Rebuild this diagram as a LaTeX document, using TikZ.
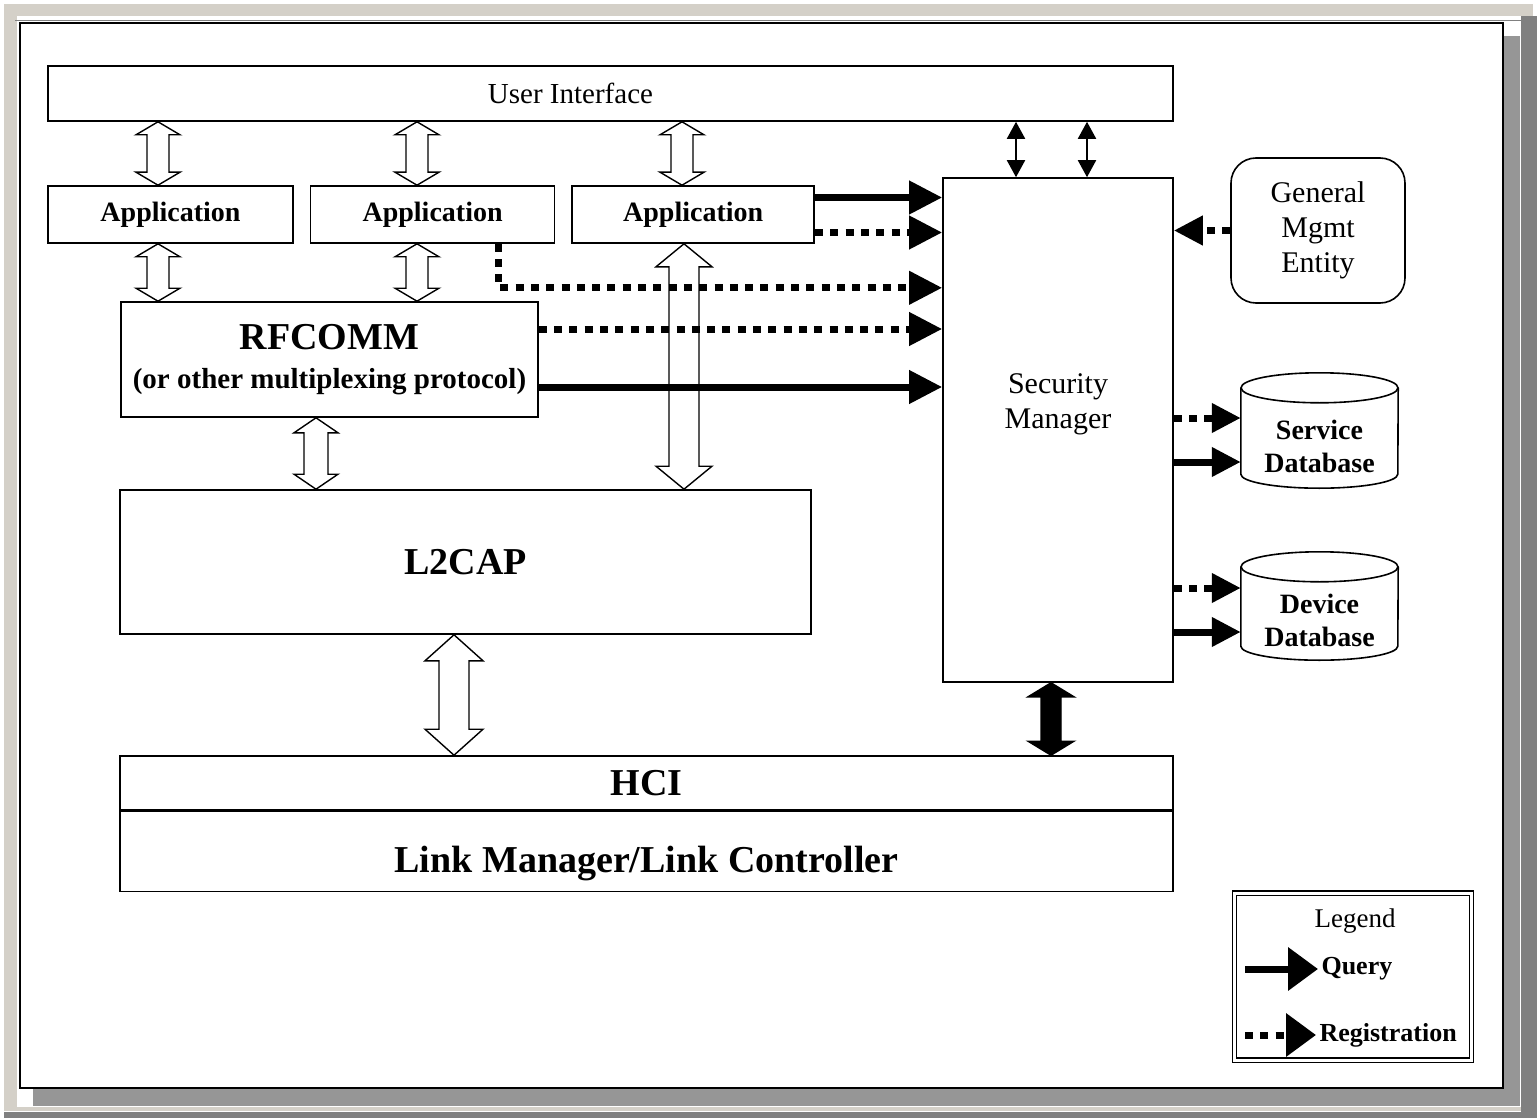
\documentclass[tikz,border=0pt]{standalone}
\usepackage{fontspec}
\setmainfont{Liberation Serif}
\usetikzlibrary{arrows.meta,positioning,calc}

\definecolor{winface}{RGB}{212,208,200}
\definecolor{winshadow}{RGB}{128,128,128}
\definecolor{dither}{RGB}{150,150,150}

\begin{document}
\begin{tikzpicture}[x=1pt,y=-1pt,
            box/.style={draw,rectangle,line width=1.6pt,inner sep=0pt},
            app/.style={box,minimum width=244pt,minimum height=57pt,font=\fontsize{28pt}{34pt}\selectfont\bfseries},
            layer/.style={box,font=\fontsize{38pt}{44pt}\selectfont\bfseries},
            bigtext/.style={font=\fontsize{38pt}{44pt}\selectfont\bfseries},
            uitext/.style={font=\fontsize{29pt}{35pt}\selectfont},
            smtext/.style={align=center,font=\fontsize{30pt}{35pt}\selectfont},
            dbtext/.style={align=center,font=\fontsize{28pt}{33pt}\selectfont\bfseries},
            legtext/.style={font=\fontsize{27pt}{32pt}\selectfont},
            db/.style={rectangle,minimum width=157pt,inner sep=0pt},
            dbline/.style={line width=1.6pt},
            hollow/.style args={#1/#2/#3}{draw,fill=white,line width=1.4pt,
              to path={let \p1=(\tikztostart), \p2=(\tikztotarget) in
                (\x1,\y1) -- (\x1+#2pt,\y1-#3pt) -- (\x1+#1pt,\y1-#3pt) -- (\x2+#1pt,\y2+#3pt)
                -- (\x2+#2pt,\y2+#3pt) -- (\x2,\y2) -- (\x2-#2pt,\y2+#3pt) -- (\x2-#1pt,\y2+#3pt)
                -- (\x1-#1pt,\y1-#3pt) -- (\x1-#2pt,\y1-#3pt) -- cycle}},
            bus/.style={hollow=#1,fill=black},
            ctl/.style={draw,line width=2pt,{Triangle[length=17pt,width=18pt]}-{Triangle[length=17pt,width=18pt]}},
            query/.style={draw,line width=7pt,-{Triangle[length=33pt,width=32pt]}},
            reg/.style={query,dash pattern=on 8pt off 7.3pt},
            small tip/.style={-{Triangle[length=29pt,width=28pt]}},
            legend tip/.style={-{Triangle[length=30pt,width=42pt]}}
          ]
          % window frame
          \useasboundingbox (0,0) rectangle (1537,1118);
          \fill[white] (0,0) rectangle (1537,1118);
          \fill[winface] (4,4) rectangle (1533,16);
          \fill[winface] (4,4) rectangle (17,1111);
          \fill[winface] (17,1107) rectangle (1521,1111);
          \fill[winshadow] (1521,16) rectangle (1537,1118);
          \fill[winshadow] (4,1112) rectangle (1537,1118);
          \fill[dither] (1504,36) rectangle (1520,1106);
          \fill[dither] (33,1089) rectangle (1520,1106);
          \draw[winshadow,line width=1.5pt] (15,20.5) -- (1523,20.5);
          \draw[line width=2pt] (20,23) rectangle (1503,1088);

          %stack
          \node[box,minimum width=1125pt,minimum height=55pt,
                label={[uitext,xshift=-40pt]center:User Interface}] (ui) at (610.5,93.5) {};
          \node[app,minimum width=245pt] (app1) at (170.5,214.5) {Application};
          \node[app,right=16pt of app1] (app2) {Application};
          \node[app,minimum width=242pt,right=16pt of app2] (app3) {Application};
          \node[box,minimum width=417pt,minimum height=115pt,align=center,
                font=\fontsize{29pt}{39pt}\selectfont\bfseries] (rfcomm) at (329.5,359.5)
                {{\fontsize{38pt}{39pt}\selectfont RFCOMM}\\(or other multiplexing protocol)};
          \node[layer,minimum width=691pt,minimum height=144pt] (l2cap) at (465.5,562) {L2CAP};
          \node[layer,minimum width=1053pt,minimum height=54pt] (hci) at (646.5,783) {HCI};
          \node[layer,minimum width=1053pt,minimum height=80pt,below=0pt of hci,
                label={[bigtext,yshift=-12pt]center:Link Manager/Link Controller}] (lm) {};

          %security side
          \node[box,minimum width=230pt,minimum height=504pt,
                label={[smtext,yshift=26pt]center:Security\\Manager}] (sm) at (1058,430) {};
          \node[draw,line width=1.6pt,rounded corners=25pt,minimum width=174pt,minimum height=145pt,
                smtext] (gme) at (1318,230.5) {General\\Mgmt\\Entity};
          \node[db,minimum height=115pt,label={[dbtext,yshift=-16pt]center:Service\\Database}] (sdb) at (1319.5,430.5) {};
          \node[db,minimum height=108pt,label={[dbtext,yshift=-14pt]center:Device\\Database}] (ddb) at (1319.5,606) {};

          %database outlines
          \foreach \d in {sdb,ddb}{
            \draw[dbline] ([yshift=-15pt]\d.north) ellipse [x radius=78.5pt,y radius=15pt];
            \draw[dbline] ([yshift=-15pt]\d.north west) -- ([yshift=14pt]\d.south west)
              arc [start angle=180,end angle=360,x radius=78.5pt,y radius=14pt]
              -- ([yshift=-15pt]\d.north east);
          }

          %legend
          \node[draw,double,double distance=3pt,line width=1.3pt,minimum width=237pt,minimum height=167pt] (legend) at (1353,976.5) {};
          \node[legtext] (legtitle) at (1355,921) {Legend};
          \node[legtext,font=\fontsize{26pt}{32pt}\selectfont\bfseries,anchor=west] (query) at (1318,969) {Query};
          \node[legtext,font=\fontsize{26pt}{32pt}\selectfont\bfseries,anchor=west] (regis) at (1316,1035) {Registration};

          %columns and rows
          \coordinate (c1) at (158,0);
          \coordinate (c2) at (417,0);
          \coordinate (c3) at (682,0);
          \coordinate (c4) at (684,0);
          \coordinate (c5) at (316,0);
          \coordinate (c6) at (454,0);
          \coordinate (c7) at (1051,0);
          \coordinate (c8) at (1016,0);
          \coordinate (c9) at (1087,0);
          \coordinate (q1) at ([yshift=17pt]app3.east);
          \coordinate (r1) at ([yshift=-18pt]app3.east);
          \coordinate (r2) at ([xshift=-57pt,yshift=-44pt]app2.south east);
          \coordinate (r3) at ([yshift=30.5pt]rfcomm.east);
          \coordinate (q2) at ([yshift=-27.5pt]rfcomm.east);
          \coordinate (s1) at ([yshift=12.5pt]sdb.center);
          \coordinate (s2) at ([yshift=-31.5pt]sdb.center);
          \coordinate (d1) at ([yshift=18pt]ddb.center);
          \coordinate (d2) at ([yshift=-26pt]ddb.center);
          \coordinate (lq) at (1245,969);
          \coordinate (lr) at (1245,1035);

          %data paths
          \path
          (ui.south -| c1) edge[hollow=11/22/13] (app1.north -| c1)
          (ui.south -| c2) edge[hollow=11/22/13] (app2.north -| c2)
          (ui.south -| c3) edge[hollow=11/22/13] (app3.north -| c3)
          (app1.south -| c1) edge[hollow=11/22/13] (rfcomm.north -| c1)
          (app2.south -| c2) edge[hollow=11/22/13] (rfcomm.north -| c2)
          (rfcomm.south -| c5) edge[hollow=12/22/15] (l2cap.north -| c5)
          (app3.south -| c4) edge[hollow=15/28/23] (l2cap.north -| c4)
          (l2cap.south -| c6) edge[hollow=15/29/26] (hci.north -| c6)
          (sm.south -| c7) edge[bus=10/23/14] (hci.north -| c7)
          (ui.south -| c8) edge[ctl] (sm.north -| c8)
          (ui.south -| c9) edge[ctl] (sm.north -| c9)
          ;

          %queries and registrations
          \draw[reg] (app2.south -| r2) |- (r2 -| sm.west);
          \path
          (q1) edge[query] (q1 -| sm.west)
          (r1) edge[reg] (r1 -| sm.west)
          (r3) edge[reg] (r3 -| sm.west)
          (q2) edge[query] (q2 -| sm.west)
          (gme.west) edge[reg,small tip] (gme.west -| sm.east)
          (sm.east |- s1) edge[reg,small tip] (s1 -| sdb.west)
          (sm.east |- s2) edge[query,small tip] (s2 -| sdb.west)
          (sm.east |- d1) edge[reg,small tip] (d1 -| ddb.west)
          (sm.east |- d2) edge[query,small tip] (d2 -| ddb.west)
          (lq) edge[query,legend tip] (query.west)
          (lr) edge[reg,legend tip] (regis.west)
          ;

      \end{tikzpicture}
\end{document}
